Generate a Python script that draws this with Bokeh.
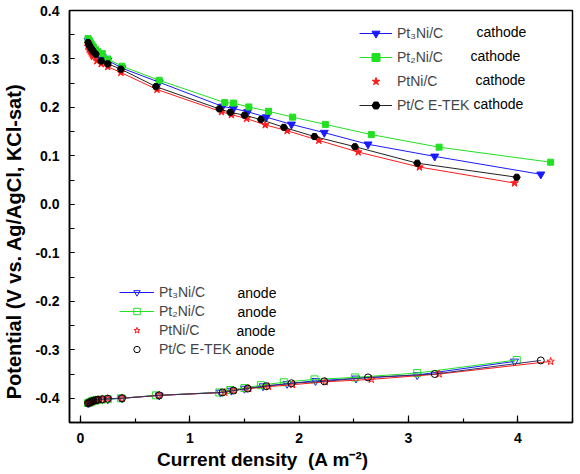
from bokeh.plotting import figure
from bokeh.models import Legend, LegendItem, Range1d, SingleIntervalTicker, NumeralTickFormatter, Label
from bokeh.embed import file_html
from bokeh.resources import INLINE

# ---------------- data ----------------
pt3ni_cat_x = [0.07, 0.08, 0.09, 0.10, 0.11, 0.12, 0.14, 0.16, 0.20, 0.25, 0.38, 0.72, 1.30, 1.40, 1.53, 1.70, 1.93, 2.23, 2.63, 3.24, 4.21]
pt3ni_cat_y = [0.338, 0.334, 0.330, 0.326, 0.322, 0.319, 0.314, 0.310, 0.304, 0.297, 0.281, 0.252, 0.202, 0.198, 0.191, 0.180, 0.165, 0.148, 0.124, 0.099, 0.062]

pt2ni_cat_x = [0.07, 0.08, 0.09, 0.10, 0.11, 0.12, 0.14, 0.16, 0.20, 0.25, 0.38, 0.72, 1.32, 1.40, 1.54, 1.72, 1.94, 2.24, 2.66, 3.28, 4.30]
pt2ni_cat_y = [0.342, 0.338, 0.334, 0.330, 0.327, 0.324, 0.319, 0.315, 0.311, 0.300, 0.285, 0.256, 0.210, 0.209, 0.201, 0.192, 0.180, 0.165, 0.144, 0.118, 0.087]

ptni_cat_x = [0.07, 0.08, 0.09, 0.10, 0.11, 0.12, 0.15, 0.19, 0.25, 0.37, 0.70, 1.29, 1.38, 1.52, 1.69, 1.89, 2.18, 2.54, 3.10, 3.97]
ptni_cat_y = [0.326, 0.320, 0.316, 0.312, 0.308, 0.305, 0.296, 0.290, 0.284, 0.272, 0.237, 0.191, 0.185, 0.177, 0.164, 0.152, 0.132, 0.108, 0.077, 0.044]

ptc_cat_x = [0.07, 0.08, 0.09, 0.10, 0.11, 0.12, 0.14, 0.19, 0.25, 0.37, 0.69, 1.27, 1.37, 1.50, 1.65, 1.86, 2.14, 2.51, 3.08, 3.99]
ptc_cat_y = [0.334, 0.329, 0.325, 0.321, 0.318, 0.315, 0.310, 0.296, 0.290, 0.279, 0.243, 0.197, 0.190, 0.184, 0.175, 0.159, 0.140, 0.119, 0.085, 0.056]

pt3ni_an_x = [0.07, 0.08, 0.09, 0.10, 0.11, 0.12, 0.14, 0.16, 0.20, 0.25, 0.38, 0.72, 1.28, 1.38, 1.50, 1.67, 1.89, 2.15, 2.52, 3.08, 3.97]
pt3ni_an_y = [-0.410, -0.409, -0.408, -0.407, -0.406, -0.405, -0.404, -0.403, -0.402, -0.402, -0.400, -0.394, -0.388, -0.384, -0.380, -0.375, -0.370, -0.364, -0.359, -0.352, -0.324]

pt2ni_an_x = [0.07, 0.08, 0.09, 0.10, 0.11, 0.12, 0.14, 0.19, 0.25, 0.37, 0.69, 1.27, 1.37, 1.50, 1.65, 1.86, 2.14, 2.51, 3.08, 3.99]
pt2ni_an_y = [-0.410, -0.409, -0.408, -0.407, -0.406, -0.405, -0.404, -0.403, -0.402, -0.400, -0.394, -0.388, -0.383, -0.379, -0.373, -0.367, -0.361, -0.357, -0.348, -0.321]

ptni_an_x = [0.07, 0.08, 0.09, 0.10, 0.11, 0.12, 0.14, 0.16, 0.20, 0.25, 0.38, 0.72, 1.32, 1.40, 1.54, 1.72, 1.94, 2.24, 2.66, 3.28, 4.30]
ptni_an_y = [-0.410, -0.409, -0.408, -0.407, -0.406, -0.405, -0.404, -0.403, -0.402, -0.401, -0.400, -0.394, -0.388, -0.384, -0.380, -0.376, -0.372, -0.366, -0.361, -0.350, -0.324]

ptc_an_x = [0.07, 0.08, 0.09, 0.10, 0.11, 0.12, 0.14, 0.16, 0.20, 0.25, 0.38, 0.72, 1.30, 1.40, 1.53, 1.70, 1.93, 2.23, 2.63, 3.24, 4.21]
ptc_an_y = [-0.410, -0.409, -0.408, -0.407, -0.406, -0.405, -0.404, -0.403, -0.402, -0.401, -0.400, -0.394, -0.388, -0.384, -0.380, -0.375, -0.369, -0.365, -0.357, -0.350, -0.322]

catalysts = ["Pt\u2083Ni/C", "Pt\u2082Ni/C", "PtNi/C", "Pt/C E-TEK"]
electrodes = ["cathode", "anode"]

NB = "\u00a0"
x_label = "Current density" + NB * 2 + "(A m\u207b\u00b2)" + NB * 22
y_label = "Potential (V vs. Ag/AgCl, KCl-sat)" + NB * 9

BLUE = "#1a1aff"
GREEN = "#22e022"
RED = "#ff1a1a"
BLACK = "#000000"
FONT = "Liberation Sans"

p = figure(width=580, height=474, output_backend="svg", toolbar_location=None,
           x_range=Range1d(-0.1, 4.5), y_range=Range1d(-0.45, 0.4),
           min_border_left=65, min_border_right=8, min_border_top=10, min_border_bottom=52)
p.background_fill_color = "white"
p.border_fill_color = "white"
p.outline_line_color = "black"
p.outline_line_width = 1.5
p.xgrid.visible = False
p.ygrid.visible = False

# cathode series
r1l = p.line(pt3ni_cat_x, pt3ni_cat_y, line_color=BLUE, line_width=1)
r1s = p.scatter(pt3ni_cat_x, pt3ni_cat_y, marker="inverted_triangle", size=8, fill_color=BLUE, line_color=BLUE)
r2l = p.line(pt2ni_cat_x, pt2ni_cat_y, line_color=GREEN, line_width=1)
r2s = p.scatter(pt2ni_cat_x, pt2ni_cat_y, marker="square", size=6, fill_color=GREEN, line_color=GREEN)
r3l = p.line(ptni_cat_x, ptni_cat_y, line_color=RED, line_width=1)
r3s = p.scatter(ptni_cat_x, ptni_cat_y, marker="star", size=8, fill_color=RED, line_color=RED)
r4l = p.line(ptc_cat_x, ptc_cat_y, line_color="#222222", line_width=1)
r4s = p.scatter(ptc_cat_x, ptc_cat_y, marker="hex", size=7, fill_color=BLACK, line_color=BLACK)

# anode series
a1l = p.line(pt3ni_an_x, pt3ni_an_y, line_color=BLUE, line_width=1)
a1s = p.scatter(pt3ni_an_x, pt3ni_an_y, marker="inverted_triangle", size=8, fill_color="white", fill_alpha=0, line_color=BLUE)
a2l = p.line(pt2ni_an_x, pt2ni_an_y, line_color=GREEN, line_width=1)
a2s = p.scatter(pt2ni_an_x, pt2ni_an_y, marker="square", size=7, fill_color="white", fill_alpha=0, line_color=GREEN)
a3l = p.line(ptni_an_x, ptni_an_y, line_color=RED, line_width=1)
a3s = p.scatter(ptni_an_x, ptni_an_y, marker="star", size=8, fill_color="white", fill_alpha=0, line_color=RED)
a4l = p.line(ptc_an_x, ptc_an_y, line_color="#333366", line_width=1)
a4s = p.scatter(ptc_an_x, ptc_an_y, marker="circle", size=7, fill_color="white", fill_alpha=0, line_color=BLACK)

# axes
for ax in (p.xaxis[0], p.yaxis[0]):
    ax.axis_line_width = 1.5
    ax.major_tick_out = 0
    ax.minor_tick_out = 0
    ax.major_tick_line_width = 1.2
    ax.minor_tick_line_width = 1.2
    ax.major_label_text_font = FONT
    ax.major_label_text_font_style = "bold"
    ax.major_label_text_font_size = "14px"
    ax.major_label_text_color = "black"
    ax.axis_label_text_font = FONT
    ax.axis_label_text_font_style = "bold"
    ax.axis_label_text_color = "black"

p.xaxis.ticker = SingleIntervalTicker(interval=1, num_minor_ticks=2)
p.xaxis.formatter = NumeralTickFormatter(format="0")
p.xaxis.major_tick_in = 7
p.xaxis.minor_tick_in = 4
p.xaxis.major_label_standoff = 10
p.xaxis.axis_label = x_label
p.xaxis.axis_label_text_font_size = "19px"
p.xaxis.axis_label_standoff = 3

p.yaxis.ticker = SingleIntervalTicker(interval=0.1, num_minor_ticks=2)
p.yaxis.formatter = NumeralTickFormatter(format="0.0")
p.yaxis.major_tick_in = 5
p.yaxis.minor_tick_in = 5
p.yaxis.major_label_standoff = 10
p.yaxis.axis_label = y_label
p.yaxis.axis_label_text_font_size = "20px"
p.yaxis.axis_label_standoff = 7

# legends (catalyst names with glyphs) + electrode column as labels
leg1 = Legend(items=[LegendItem(label=catalysts[0], renderers=[r1l, r1s]),
                     LegendItem(label=catalysts[1], renderers=[r2l, r2s]),
                     LegendItem(label=catalysts[2], renderers=[r3s]),
                     LegendItem(label=catalysts[3], renderers=[r4l, r4s])],
              location=(290, 307), padding=0, margin=0, spacing=4,
              glyph_width=33, glyph_height=20, label_height=20, label_standoff=5,
              label_text_font=FONT, label_text_font_size="14px",
              background_fill_alpha=0, border_line_alpha=0)
leg2 = Legend(items=[LegendItem(label=catalysts[0], renderers=[a1l, a1s]),
                     LegendItem(label=catalysts[1], renderers=[a2l, a2s]),
                     LegendItem(label=catalysts[2], renderers=[a3s]),
                     LegendItem(label=catalysts[3], renderers=[a4s])],
              location=(50, 65), padding=0, margin=0, spacing=3,
              glyph_width=35, glyph_height=16, label_height=16, label_standoff=5,
              label_text_font=FONT, label_text_font_size="14px",
              background_fill_alpha=0, border_line_alpha=0)
p.add_layout(leg1, "center")
p.add_layout(leg2, "center")

cat_pos = [(407, 391), (401, 367), (406, 343), (404, 319)]
an_pos = [(168, 130), (168, 111), (167, 92), (166, 73)]
for (sx, sy) in cat_pos:
    p.add_layout(Label(x=sx, y=sy, x_units="screen", y_units="screen", text=electrodes[0],
                       text_font=FONT, text_font_size="14px", text_baseline="middle", text_color="black"))
for (sx, sy) in an_pos:
    p.add_layout(Label(x=sx, y=sy, x_units="screen", y_units="screen", text=electrodes[1],
                       text_font=FONT, text_font_size="14px", text_baseline="middle", text_color="black"))

open("out.html", "w").write(file_html(p, INLINE))
